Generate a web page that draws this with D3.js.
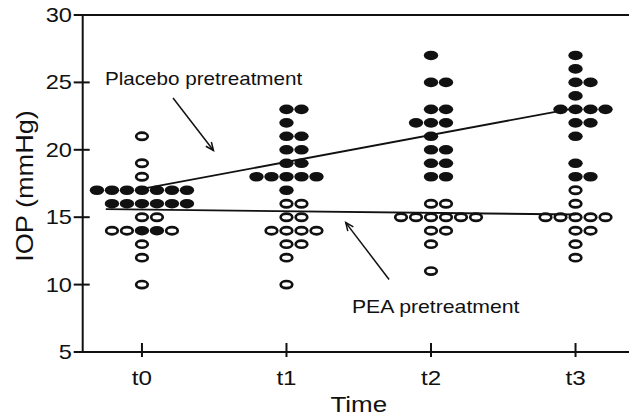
<!DOCTYPE html>
<html>
<head>
<meta charset="utf-8">
<script src="https://cdn.jsdelivr.net/npm/d3@7"></script>
<style>
  body { margin: 0; background: #fff; }
  svg { display: block; font-family: "Liberation Sans", Arial, sans-serif; }
</style>
</head>
<body>
<div id="chart"></div>
<script>
const times = ['t0', 't1', 't2', 't3'];
const yTicks = [5, 10, 15, 20, 25, 30];

// IOP values per eye, one array per time point
const placebo = [
  [17, 17, 17, 17, 17, 17, 17, 16, 16, 16, 16, 16, 16, 14, 14],
  [23, 23, 22, 21, 21, 20, 20, 19, 19, 18, 18, 18, 18, 18, 17],
  [27, 25, 25, 23, 23, 22, 22, 22, 21, 20, 20, 19, 19, 18, 18],
  [27, 26, 25, 25, 24, 23, 23, 23, 23, 22, 22, 21, 19, 18, 18]
];
const pea = [
  [21, 19, 18, 15, 15, 14, 14, 14, 13, 12, 10],
  [16, 16, 15, 15, 14, 14, 14, 14, 13, 13, 12, 10],
  [16, 16, 15, 15, 15, 15, 15, 15, 14, 14, 13, 11],
  [17, 16, 15, 15, 15, 15, 15, 14, 14, 13, 12]
];

// trend lines [time index, IOP]
const placeboFit = [[0, 17.1], [3, 23.1]];
const peaFit = [[-0.25, 15.6], [3, 15.2]];

const width = 629;
const height = 418;
const textStretch = 1.18;

const svg = d3.select('#chart')
  .append('svg')
  .attr('width', width)
  .attr('height', height);

const x = d3.scaleLinear().domain([-0.41, 3.37]).range([82.7, 629]);
const y = d3.scaleLinear().domain([5, 30]).range([352, 15]);

function label(g, txt, px, py, anchor, size, rotate) {
  const rot = rotate ? ` rotate(${rotate})` : '';
  return g.append('text')
    .attr('transform', `translate(${px},${py})${rot} scale(${textStretch},1)`)
    .attr('text-anchor', anchor)
    .attr('font-size', size)
    .attr('fill', '#111')
    .text(txt);
}

// frame: left axis, bottom axis and top line
const axes = svg.append('g').attr('stroke', '#111').attr('stroke-width', 2);
axes.append('line').attr('x1', x.range()[0]).attr('x2', x.range()[0]).attr('y1', y(30)).attr('y2', y(5));
axes.append('line').attr('x1', x.range()[0]).attr('x2', width).attr('y1', y(5)).attr('y2', y(5));
axes.append('line').attr('x1', x.range()[0]).attr('x2', width).attr('y1', y(30)).attr('y2', y(30));

// y ticks cross the axis
axes.selectAll('.ytick')
  .data(yTicks)
  .join('line')
  .attr('x1', x.range()[0] - 9)
  .attr('x2', x.range()[0] + 7)
  .attr('y1', d => y(d))
  .attr('y2', d => y(d));

axes.selectAll('.xtick')
  .data(times)
  .join('line')
  .attr('x1', (d, i) => x(i))
  .attr('x2', (d, i) => x(i))
  .attr('y1', y(5) - 9)
  .attr('y2', y(5) + 5);

const labels = svg.append('g');
yTicks.forEach(t => label(labels, t, 72, y(t) + 7, 'end', 20));
times.forEach((t, i) => label(labels, t, x(i), 385, 'middle', 20.5));
label(labels, 'Time', (x(0) + x(3)) / 2, 412, 'middle', 22);
label(labels, 'IOP (mmHg)', 33, 186, 'middle', 23, -90);

// dot layout: columns filled outward from the centre
const slots = [0, 1, -1, 2, -2, 3, -3, 4, -4];
const colStep = 15;
const dots = [];
times.forEach((t, i) => {
  const rows = new Map();
  const add = (v, filled) => {
    const n = rows.get(v) || 0;
    rows.set(v, n + 1);
    dots.push({ t: i, v, filled, slot: slots[n] });
  };
  placebo[i].forEach(v => add(v, true));
  pea[i].forEach(v => add(v, false));
});

const dotG = svg.append('g');
dotG.selectAll('ellipse')
  .data(dots)
  .join('ellipse')
  .attr('cx', d => x(d.t) + d.slot * colStep)
  .attr('cy', d => y(d.v))
  .attr('rx', d => d.filled ? 7.2 : 5.8)
  .attr('ry', d => d.filled ? 4.8 : 3.6)
  .attr('fill', d => d.filled ? '#111' : '#fff')
  .attr('stroke', d => d.filled ? 'none' : '#111')
  .attr('stroke-width', 2.7);

// trend lines
const line = d3.line().x(d => x(d[0])).y(d => y(d[1]));
svg.append('path').datum(placeboFit).attr('d', line)
  .attr('fill', 'none').attr('stroke', '#111').attr('stroke-width', 1.8);
svg.append('path').datum(peaFit).attr('d', line)
  .attr('fill', 'none').attr('stroke', '#111').attr('stroke-width', 1.8);

// annotations
svg.append('defs').append('marker')
  .attr('id', 'head')
  .attr('viewBox', '-10 -5 12 10')
  .attr('markerWidth', 12)
  .attr('markerHeight', 10)
  .attr('markerUnits', 'userSpaceOnUse')
  .attr('orient', 'auto')
  .append('path')
  .attr('d', 'M-8,-3.5L0,0L-8,3.5')
  .attr('fill', 'none')
  .attr('stroke', '#111')
  .attr('stroke-width', 1.5);

const arrow = (a, b) => svg.append('line')
  .attr('x1', x(a[0])).attr('y1', y(a[1]))
  .attr('x2', x(b[0])).attr('y2', y(b[1]))
  .attr('stroke', '#111').attr('stroke-width', 1.5)
  .attr('marker-end', 'url(#head)');

arrow([0.215, 23.84], [0.495, 19.95]);
arrow([1.71, 10.38], [1.41, 14.6]);

label(labels, 'Placebo pretreatment', x(-0.256), y(24.84), 'start', 17.5);
label(labels, 'PEA pretreatment', x(1.453), y(7.89), 'start', 18);
</script>
</body>
</html>
